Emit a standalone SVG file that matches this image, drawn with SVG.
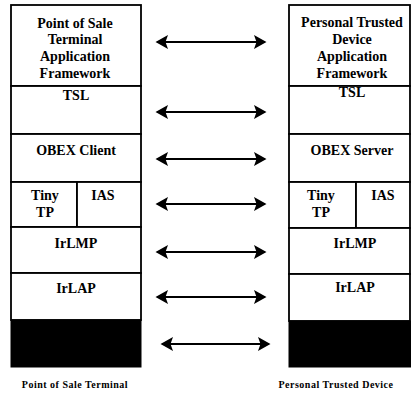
<svg xmlns="http://www.w3.org/2000/svg" width="411" height="411" viewBox="0 0 411 411">
<style>
.box{fill:#ffffff;stroke:#000;stroke-width:1.8}
.blk{fill:#000;stroke:#000;stroke-width:1}
.t{font-family:"Liberation Serif","Times New Roman","DejaVu Serif",serif;font-weight:bold;font-size:14px;fill:#000;text-anchor:middle}
.cap{font-family:"Liberation Serif","Times New Roman","DejaVu Serif",serif;font-weight:bold;font-size:10px;letter-spacing:0.5px;fill:#000;text-anchor:middle}
.arr{stroke:#000;stroke-width:2;fill:none;marker-start:url(#ah);marker-end:url(#ah)}
</style>
<defs>
<marker id="ah" markerUnits="userSpaceOnUse" markerWidth="13" markerHeight="15" refX="11" refY="7.5" orient="auto-start-reverse">
<path d="M0,0.5 L12.5,7.5 L0,14.5 L2.5,7.5 z" fill="#000"/>
</marker>
</defs>
<rect width="411" height="411" fill="#fff"/>
<g id="pos-stack">
<g id="pos-app"><rect class="box" x="11" y="5" width="130" height="81"/>
<text class="t" x="75" y="28">Point of Sale</text><text class="t" x="75" y="44">Terminal</text><text class="t" x="75" y="61">Application</text><text class="t" x="75" y="78">Framework</text></g>
<g id="pos-tsl"><rect class="box" x="11" y="86" width="130" height="48"/><text class="t" x="76" y="100">TSL</text></g>
<g id="pos-obex"><rect class="box" x="11" y="134" width="130" height="48"/><text class="t" x="76" y="155">OBEX Client</text></g>
<g id="pos-tinytp"><rect class="box" x="11" y="182" width="66" height="45"/><text class="t" x="45" y="200">Tiny</text><text class="t" x="45" y="217">TP</text></g>
<g id="pos-ias"><rect class="box" x="77" y="182" width="64" height="45"/><text class="t" x="103" y="200">IAS</text></g>
<g id="pos-irlmp"><rect class="box" x="11" y="227" width="130" height="46"/><text class="t" x="76" y="248">IrLMP</text></g>
<g id="pos-irlap"><rect class="box" x="11" y="273" width="130" height="47"/><text class="t" x="76" y="293">IrLAP</text></g>
<g id="pos-phy"><rect class="blk" x="11" y="320" width="130" height="47"/></g>
</g>
<g id="ptd-stack">
<g id="ptd-app"><rect class="box" x="289" y="5" width="121" height="81"/>
<text class="t" x="352" y="27">Personal Trusted</text><text class="t" x="352" y="44">Device</text><text class="t" x="352" y="61">Application</text><text class="t" x="352" y="78">Framework</text></g>
<g id="ptd-tsl"><rect class="box" x="289" y="86" width="121" height="48"/><text class="t" x="352" y="97">TSL</text></g>
<g id="ptd-obex"><rect class="box" x="289" y="134" width="121" height="48"/><text class="t" x="352" y="155">OBEX Server</text></g>
<g id="ptd-tinytp"><rect class="box" x="289" y="182" width="67" height="46"/><text class="t" x="321" y="200">Tiny</text><text class="t" x="321" y="217">TP</text></g>
<g id="ptd-ias"><rect class="box" x="356" y="182" width="54" height="46"/><text class="t" x="383" y="200">IAS</text></g>
<g id="ptd-irlmp"><rect class="box" x="289" y="228" width="121" height="46"/><text class="t" x="355" y="248">IrLMP</text></g>
<g id="ptd-irlap"><rect class="box" x="289" y="274" width="121" height="47"/><text class="t" x="355" y="292">IrLAP</text></g>
<g id="ptd-phy"><rect class="blk" x="289" y="321" width="122" height="46"/></g>
</g>
<g id="connectors">
<line class="arr" x1="157" y1="42" x2="265" y2="42"/>
<line class="arr" x1="157" y1="112" x2="265" y2="112"/>
<line class="arr" x1="157" y1="159" x2="265" y2="159"/>
<line class="arr" x1="157" y1="204" x2="265" y2="204"/>
<line class="arr" x1="157" y1="252" x2="265" y2="252"/>
<line class="arr" x1="157" y1="297" x2="265" y2="297"/>
<line class="arr" x1="162" y1="344" x2="269" y2="344"/>
</g>
<g id="captions">
<text class="cap" x="75" y="388">Point of Sale Terminal</text>
<text class="cap" x="336" y="388">Personal Trusted Device</text>
</g>
</svg>
